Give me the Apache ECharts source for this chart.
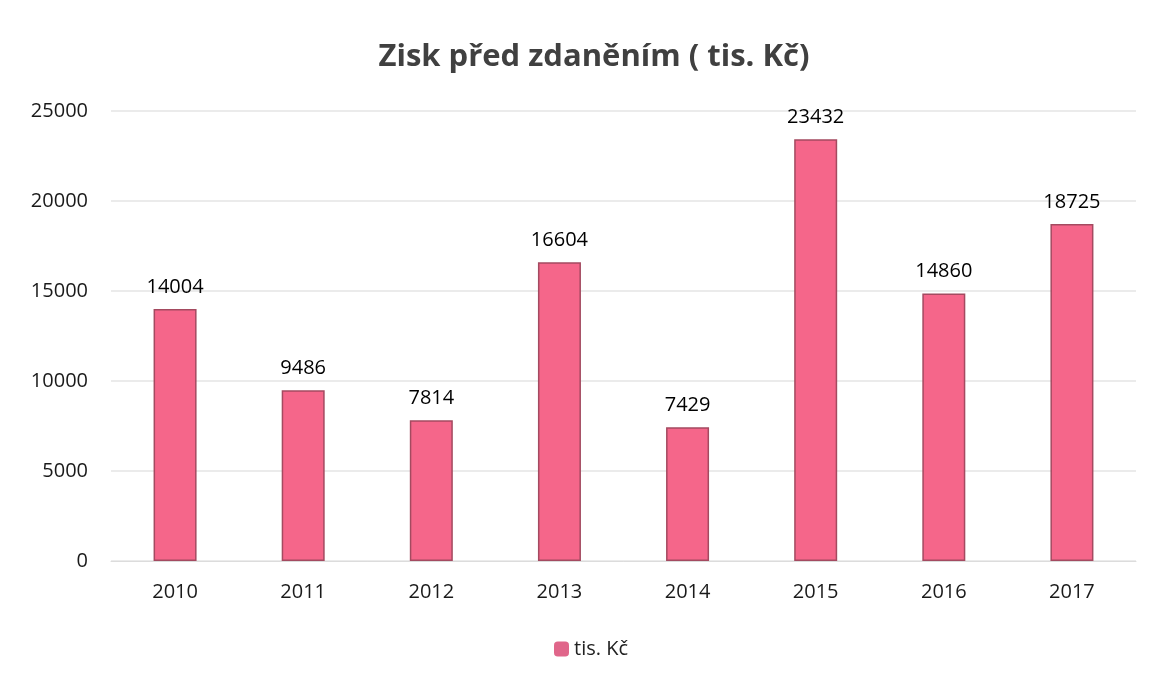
<!DOCTYPE html>
<html><head><meta charset="utf-8">
<script src="https://cdn.jsdelivr.net/npm/echarts@6/dist/echarts.min.js"></script>
<style>html,body{margin:0;padding:0;background:#fff}#c{width:1154px;height:676px}</style>
</head><body><div id="c"></div>
<script>
const categories = ['2010','2011','2012','2013','2014','2015','2016','2017'];
const values = [14004, 9486, 7814, 16604, 7429, 23432, 14860, 18725];
const seriesName = 'tis. Kč';
const titleText = 'Zisk před zdaněním ( tis. Kč)';

const chart = echarts.init(document.getElementById('c'));
chart.setOption({
  animation: false,
  title: {text: titleText, left: 589, textAlign: 'center', top: 37,
    textStyle: {fontFamily: 'Open Sans', fontWeight: 'bold', fontSize: 31, color: '#404040'}},
  legend: {data: [seriesName], left: 549, top: 634, itemWidth: 15, itemHeight: 15, itemGap: 5,
    itemStyle: {borderWidth: 0, color: '#e0668a'},
    textStyle: {fontFamily: 'Open Sans', fontSize: 20, fontWeight: 500, color: '#222'}},
  grid: {left: 111, right: 18, top: 111, bottom: 115},
  xAxis: {type: 'category', data: categories,
    axisLine: {show: true, lineStyle: {color: '#dcdcdc'}}, axisTick: {show: false},
    axisLabel: {fontFamily: 'Open Sans', fontSize: 20, fontWeight: 500, color: '#1a1a1a', margin: 21}},
  yAxis: {type: 'value', min: 0, max: 25000, interval: 5000,
    axisLine: {show: false}, axisTick: {show: false},
    splitLine: {lineStyle: {color: '#e4e4e4', width: 1.5}},
    axisLabel: {fontFamily: 'Open Sans', fontSize: 20, fontWeight: 500, color: '#1a1a1a', margin: 23,
      formatter: v => String(v)}},
  series: [{type: 'bar', name: seriesName, data: values, barWidth: 43,
    itemStyle: {color: '#f5668a', borderColor: '#a44a60', borderWidth: 1.5},
    label: {show: true, position: 'top', distance: 12, fontFamily: 'Open Sans', fontSize: 20, fontWeight: 500, color: '#000'}}]
});
</script></body></html>
